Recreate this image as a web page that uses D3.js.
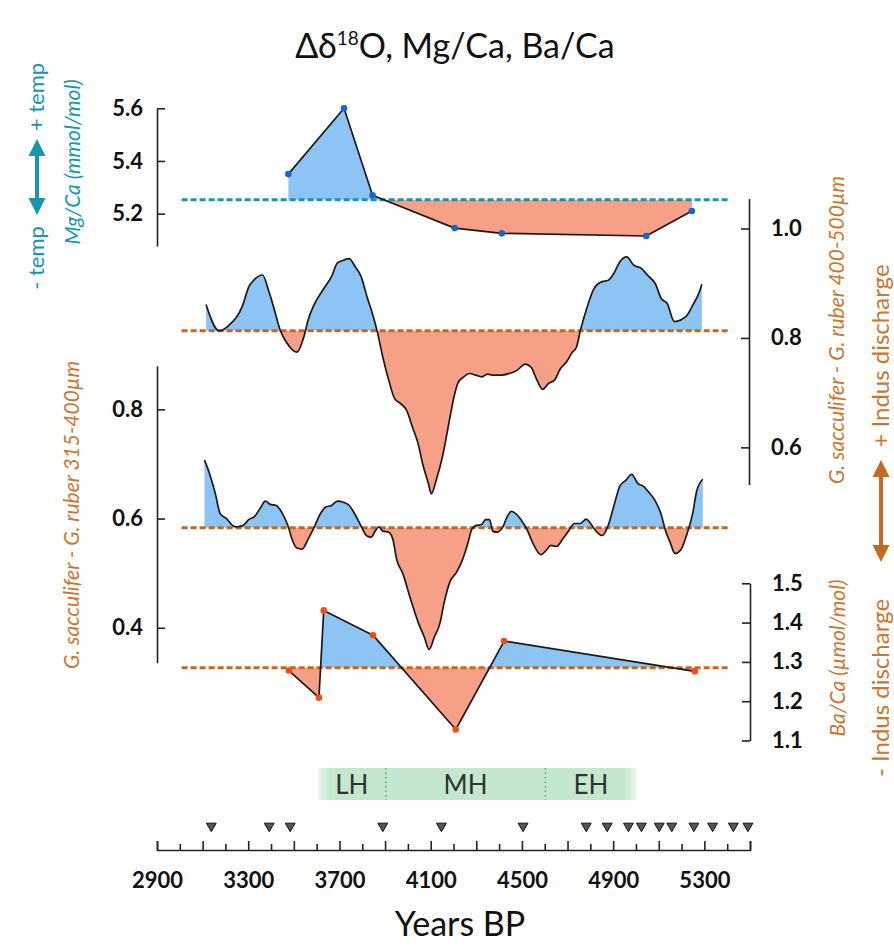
<!DOCTYPE html>
<html>
<head>
<meta charset="utf-8">
<script src="https://cdn.jsdelivr.net/npm/d3@7"></script>
<style>
body { margin: 0; background: #fff; }
text { font-family: Lato, "Open Sans", "DejaVu Sans", sans-serif; }
</style>
</head>
<body>
<svg id="chart" width="894" height="947"></svg>
<script>
// Mg/Ca (mmol/mol)
const mgcaYears = [3476, 3720, 3845, 4205, 4412, 5045, 5245];
const mgca = [5.35, 5.60, 5.27, 5.145, 5.125, 5.115, 5.21];
const mgcaMean = 5.253;

// Ba/Ca (µmol/mol)
const bacaYears = [3478, 3610, 3631, 3847, 4210, 4422, 5258];
const baca = [1.278, 1.209, 1.431, 1.368, 1.128, 1.353, 1.276];
const bacaMean = 1.285;

// G. sacculifer - G. ruber 400-500µm
const years400 = [3115, 3172, 3215, 3276, 3302, 3323, 3363, 3389, 3415, 3441,
    3466, 3513, 3544, 3562, 3588, 3631, 3665, 3691, 3717, 3743,
    3769, 3795, 3821, 3847, 3865, 3890, 3916, 3942, 3968, 3994,
    4020, 4046, 4064, 4090, 4103, 4124, 4150, 4185, 4202, 4219,
    4245, 4271, 4297, 4323, 4349, 4375, 4410, 4444, 4479, 4514,
    4539, 4566, 4591, 4617, 4643, 4669, 4695, 4721, 4739, 4756,
    4782, 4816, 4851, 4877, 4903, 4929, 4960, 4990, 5024, 5050,
    5085, 5111, 5137, 5168, 5197, 5223, 5249, 5275, 5289];
const d18O400 = [0.861, 0.813, 0.823, 0.860, 0.893, 0.905, 0.915, 0.887, 0.851, 0.813,
    0.793, 0.774, 0.802, 0.832, 0.860, 0.890, 0.912, 0.937, 0.942, 0.945,
    0.930, 0.912, 0.875, 0.841, 0.813, 0.765, 0.723, 0.689, 0.680, 0.668,
    0.637, 0.605, 0.571, 0.534, 0.515, 0.540, 0.580, 0.656, 0.692, 0.717,
    0.729, 0.735, 0.732, 0.729, 0.734, 0.732, 0.732, 0.735, 0.741, 0.752,
    0.747, 0.723, 0.706, 0.717, 0.723, 0.744, 0.756, 0.774, 0.783, 0.813,
    0.851, 0.890, 0.903, 0.905, 0.918, 0.939, 0.948, 0.933, 0.927, 0.915,
    0.899, 0.872, 0.863, 0.830, 0.833, 0.841, 0.860, 0.881, 0.898];
const d18O400Mean = 0.813;

// G. sacculifer - G. ruber 315-400µm
const years315 = [3108, 3129, 3155, 3177, 3207, 3233, 3250, 3276, 3302, 3328,
    3354, 3375, 3397, 3423, 3449, 3475, 3492, 3513, 3536, 3562,
    3588, 3614, 3640, 3665, 3691, 3717, 3743, 3769, 3795, 3821,
    3839, 3856, 3873, 3890, 3916, 3934, 3951, 3977, 4012, 4046,
    4072, 4093, 4116, 4141, 4159, 4185, 4211, 4237, 4263, 4280,
    4297, 4323, 4340, 4358, 4372, 4392, 4418, 4436, 4453, 4470,
    4496, 4522, 4548, 4583, 4609, 4626, 4652, 4678, 4704, 4730,
    4756, 4782, 4799, 4825, 4851, 4877, 4903, 4929, 4955, 4981,
    5007, 5033, 5059, 5085, 5111, 5128, 5151, 5171, 5197, 5223,
    5249, 5266, 5293];
const d18O315 = [0.707, 0.684, 0.647, 0.609, 0.599, 0.587, 0.585, 0.587, 0.598, 0.604,
    0.620, 0.632, 0.626, 0.624, 0.610, 0.586, 0.562, 0.546, 0.544, 0.562,
    0.583, 0.607, 0.621, 0.624, 0.632, 0.630, 0.624, 0.607, 0.586, 0.568,
    0.566, 0.577, 0.585, 0.577, 0.575, 0.562, 0.525, 0.500, 0.452, 0.409,
    0.383, 0.360, 0.383, 0.409, 0.446, 0.485, 0.500, 0.522, 0.555, 0.580,
    0.587, 0.589, 0.598, 0.598, 0.577, 0.575, 0.586, 0.604, 0.613, 0.610,
    0.598, 0.580, 0.555, 0.534, 0.543, 0.551, 0.549, 0.562, 0.577, 0.591,
    0.591, 0.599, 0.592, 0.577, 0.569, 0.586, 0.623, 0.659, 0.670, 0.681,
    0.665, 0.659, 0.647, 0.632, 0.607, 0.580, 0.555, 0.536, 0.543, 0.571,
    0.610, 0.650, 0.672];
const d18O315Mean = 0.583;

// extent of the dashed mean lines
const meanSpan = [3008, 5402];

// radiocarbon dates
const datingYears = [3138, 3392, 3484, 3890, 4147, 4505, 4782, 4874, 4967, 5024,
    5102, 5157, 5254, 5336, 5427, 5491];

// Holocene periods
const periodNames = ["LH", "MH", "EH"];
const periodBounds = [3605, 3903, 4603, 5002];

// axis ticks
const mgTicks = [5.2, 5.4, 5.6];
const upTicks = [0.6, 0.8, 1.0];
const midTicks = [0.4, 0.6, 0.8];
const baTicks = [1.1, 1.2, 1.3, 1.4, 1.5];
const yearTicks = d3.range(2900, 5501, 100);
const yearLabels = [2900, 3300, 3700, 4100, 4500, 4900, 5300];

const blue = "#8cc4f4";
const salmon = "#f5a087";
const teal = "#1697ad";
const orange = "#cc7630";
const orangeLine = "#c8661f";

const svg = d3.select("#chart");
const defs = svg.append("defs");

const x = d3.scaleLinear().domain([2900, 5500]).range([157, 750]);
const yMg = d3.scaleLinear().domain([5.077, 5.6]).range([246, 108.3]);
const yUp = d3.scaleLinear().domain([0.532, 1.055]).range([484.6, 198.4]);
const yMid = d3.scaleLinear().domain([0.336, 0.880]).range([662.7, 365.7]);
const yBa = d3.scaleLinear().domain([1.1, 1.5]).range([740.5, 583.3]);

function anomaly(id, xs, vs, y, mean, meanColor, curve, dotColor) {
    const data = xs.map((d, i) => ({x: d, v: vs[i]}));
    const yb = y(mean);
    const g = svg.append("g").attr("class", id);

    defs.append("clipPath").attr("id", id + "-above")
        .append("rect").attr("x", 0).attr("y", 0).attr("width", 894).attr("height", yb);
    defs.append("clipPath").attr("id", id + "-below")
        .append("rect").attr("x", 0).attr("y", yb).attr("width", 894).attr("height", 947 - yb);

    const area = d3.area().curve(curve)
        .x(d => x(d.x)).y0(yb).y1(d => y(d.v));

    g.append("path").datum(data).attr("d", area)
        .attr("fill", blue).attr("clip-path", `url(#${id}-above)`);
    g.append("path").datum(data).attr("d", area)
        .attr("fill", salmon).attr("clip-path", `url(#${id}-below)`);

    g.append("line")
        .attr("x1", x(meanSpan[0])).attr("x2", x(meanSpan[1]))
        .attr("y1", yb).attr("y2", yb)
        .style("stroke", meanColor)
        .style("stroke-width", 3)
        .style("stroke-dasharray", "6 3");

    g.append("path").datum(data)
        .attr("d", d3.line().curve(curve).x(d => x(d.x)).y(d => y(d.v)))
        .style("fill", "none")
        .style("stroke", "#1a1a1a")
        .style("stroke-width", 1.7)
        .style("stroke-linejoin", "round");

    if (dotColor) {
        g.selectAll("circle").data(data).enter()
            .append("circle")
            .attr("cx", d => x(d.x))
            .attr("cy", d => y(d.v))
            .attr("r", 3.3)
            .style("fill", dotColor);
    }
}

anomaly("mgca", mgcaYears, mgca, yMg, mgcaMean, teal, d3.curveLinear, "#1866cc");
anomaly("up", years400, d18O400, yUp, d18O400Mean, orangeLine, d3.curveMonotoneX, null);
anomaly("mid", years315, d18O315, yMid, d18O315Mean, orangeLine, d3.curveMonotoneX, null);
anomaly("baca", bacaYears, baca, yBa, bacaMean, orangeLine, d3.curveLinear, "#f04f12");

// axes
function styleAxis(g) {
    g.selectAll("path, line").style("stroke", "#222").style("stroke-width", 1.6);
    g.selectAll("text")
        .style("font-size", "22px")
        .style("font-weight", "bold")
        .style("fill", "#111");
}

svg.append("g").attr("transform", "translate(157,0)")
    .call(d3.axisLeft(yMg).tickValues(mgTicks).tickFormat(d3.format(".1f"))
        .tickSize(-8).tickSizeOuter(0).tickPadding(14))
    .call(styleAxis);

svg.append("g").attr("transform", "translate(157,0)")
    .call(d3.axisLeft(yMid).tickValues(midTicks).tickFormat(d3.format(".1f"))
        .tickSize(-8).tickSizeOuter(0).tickPadding(14))
    .call(styleAxis);

svg.append("g").attr("transform", "translate(749,0)")
    .call(d3.axisRight(yUp).tickValues(upTicks).tickFormat(d3.format(".1f"))
        .tickSize(-8).tickSizeOuter(0).tickPadding(22))
    .call(styleAxis);

svg.append("g").attr("transform", "translate(750,0)")
    .call(d3.axisRight(yBa).tickValues(baTicks).tickFormat(d3.format(".1f"))
        .tickSize(-8).tickSizeOuter(0).tickPadding(22))
    .call(styleAxis);

const xAxis = svg.append("g").attr("transform", "translate(0,850)")
    .call(d3.axisBottom(x).tickValues(yearTicks)
        .tickFormat(d => yearLabels.includes(d) ? d : "")
        .tickSize(-6).tickSizeOuter(-9).tickPadding(22))
    .call(styleAxis);
xAxis.selectAll(".tick line")
    .attr("y2", d => (d - 2900) % 200 === 0 ? -9 : -6);

// dating triangles
svg.append("g").selectAll("path").data(datingYears).enter()
    .append("path")
    .attr("d", d3.symbol(d3.symbolTriangle).size(42))
    .attr("transform", d => `translate(${x(d)},826) rotate(180)`)
    .style("fill", "#555")
    .style("stroke", "#111")
    .style("stroke-width", 1);

// period band
const grad = defs.append("linearGradient").attr("id", "band");
[[0, 0.35], [0.04, 1], [0.96, 1], [1, 0.35]].forEach(s => {
    grad.append("stop").attr("offset", s[0]).attr("stop-color", "#c3e7cf").attr("stop-opacity", s[1]);
});
svg.append("rect")
    .attr("x", x(periodBounds[0]))
    .attr("y", 768)
    .attr("width", x(periodBounds[3]) - x(periodBounds[0]))
    .attr("height", 32)
    .style("fill", "url(#band)");
svg.append("g").selectAll("line").data(periodBounds.slice(1, 3)).enter()
    .append("line")
    .attr("x1", d => x(d)).attr("x2", d => x(d))
    .attr("y1", 768).attr("y2", 800)
    .style("stroke", "#4cae6a")
    .style("stroke-width", 1.5)
    .style("stroke-dasharray", "1.5 3");
svg.append("g").selectAll("text").data(periodNames).enter()
    .append("text")
    .attr("x", (d, i) => x((periodBounds[i] + periodBounds[i + 1]) / 2))
    .attr("y", 794)
    .attr("text-anchor", "middle")
    .style("font-size", "26px")
    .style("fill", "#333")
    .text(d => d);

// title
const title = svg.append("text")
    .attr("x", 455).attr("y", 58)
    .attr("text-anchor", "middle")
    .style("font-size", "34px")
    .style("fill", "#111");
title.append("tspan").text("Δδ");
title.append("tspan").attr("dy", -13).style("font-size", "19px").text("18");
title.append("tspan").attr("dy", 13).text("O, Mg/Ca, Ba/Ca");

svg.append("text")
    .attr("x", 460).attr("y", 936)
    .attr("text-anchor", "middle")
    .style("font-size", "34px")
    .style("fill", "#111")
    .text("Years BP");

// rotated labels
function vlabel(txt, cx, cy, color, size, italic) {
    svg.append("text")
        .attr("transform", `translate(${cx},${cy}) rotate(-90)`)
        .attr("text-anchor", "middle")
        .attr("dy", "0.35em")
        .style("font-size", size + "px")
        .style("font-style", italic ? "italic" : "normal")
        .style("fill", color)
        .text(txt);
}
vlabel("+ temp", 36, 97, teal, 22, false);
vlabel("- temp", 36, 258, teal, 22, false);
vlabel("Mg/Ca (mmol/mol)", 73, 162, teal, 21, true);
vlabel("G. sacculifer - G. ruber 315-400µm", 72, 515, orange, 21, true);
vlabel("G. sacculifer - G. ruber 400-500µm", 837, 330, orange, 21, true);
vlabel("Ba/Ca (µmol/mol)", 838, 658, orange, 21, true);
vlabel("+ Indus discharge", 881, 356, orange, 24, false);
vlabel("- Indus discharge", 881, 688, orange, 24, false);

// double arrows
function dblArrow(cx, y1, y2, color) {
    const hw = 8.5, hl = 17, sw = 2;
    const p = d3.path();
    p.moveTo(cx, y1);
    p.lineTo(cx + hw, y1 + hl);
    p.lineTo(cx + sw, y1 + hl);
    p.lineTo(cx + sw, y2 - hl);
    p.lineTo(cx + hw, y2 - hl);
    p.lineTo(cx, y2);
    p.lineTo(cx - hw, y2 - hl);
    p.lineTo(cx - sw, y2 - hl);
    p.lineTo(cx - sw, y1 + hl);
    p.lineTo(cx - hw, y1 + hl);
    p.closePath();
    svg.append("path").attr("d", p.toString()).style("fill", color);
}
dblArrow(37, 139, 215, teal);
dblArrow(881, 460, 562, "#c46a22");
</script>
</body>
</html>
